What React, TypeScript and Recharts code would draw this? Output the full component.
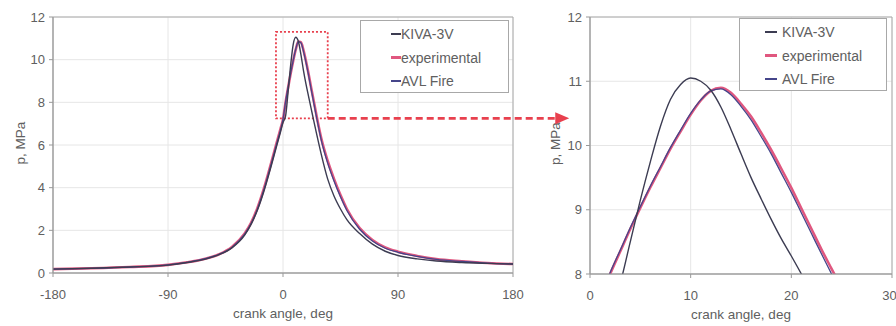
import React from 'react';
import {
  LineChart,
  Line,
  XAxis,
  YAxis,
  CartesianGrid,
  ReferenceArea,
  ReferenceLine,
  Legend,
  Label,
} from 'recharts';

// ---------- data ----------
const seriesNames = ['KIVA-3V', 'experimental', 'AVL Fire'];

const leftAngles = [-180, -150, -120, -90, -75, -60, -50, -40, -30, -25, -20, -15, -10, -5, -2, 0, 2, 4, 6, 8, 10, 12, 14, 16, 18, 20, 22, 24, 26, 30, 35, 40, 45, 50, 60, 70, 80, 90, 105, 120, 140, 160, 180];
const leftKiva = [0.18, 0.22, 0.28, 0.37, 0.49, 0.66, 0.86, 1.18, 1.78, 2.28, 2.95, 3.82, 4.85, 5.95, 6.6, 7.05, 7.35, 8.5, 9.75, 10.72, 11.05, 10.86, 10.25, 9.5, 8.85, 8.28, 7.72, 7.15, 6.6, 5.55, 4.4, 3.6, 3.0, 2.5, 1.85, 1.35, 1.02, 0.82, 0.66, 0.56, 0.49, 0.45, 0.42];
const leftExp = [0.18, 0.22, 0.28, 0.38, 0.5, 0.68, 0.88, 1.22, 1.85, 2.35, 3.05, 3.95, 5.0, 6.1, 6.75, 7.2, 8.0, 8.7, 9.35, 9.95, 10.48, 10.85, 10.82, 10.45, 9.93, 9.34, 8.7, 8.08, 7.45, 6.3, 5.25, 4.4, 3.65, 3.0, 2.1, 1.55, 1.2, 1.0, 0.8, 0.65, 0.55, 0.47, 0.42];
const leftAvl = [0.18, 0.22, 0.28, 0.38, 0.5, 0.68, 0.88, 1.2, 1.82, 2.32, 3.0, 3.9, 4.95, 6.05, 6.7, 7.2, 8.02, 8.72, 9.37, 9.97, 10.5, 10.85, 10.79, 10.4, 9.87, 9.27, 8.63, 8.0, 7.38, 6.22, 5.15, 4.3, 3.57, 2.93, 2.05, 1.5, 1.16, 0.97, 0.78, 0.64, 0.54, 0.46, 0.42];

const rightAngles = [0, 1, 2, 3, 4, 5, 6, 7, 8, 9, 10, 11, 12, 13, 14, 15, 16, 17, 18, 19, 20, 21, 22, 23, 24, 25, 26];
const rightKiva = [7.0, 7.15, 7.35, 7.85, 8.5, 9.15, 9.75, 10.3, 10.72, 10.95, 11.05, 11.0, 10.86, 10.6, 10.25, 9.87, 9.5, 9.17, 8.85, 8.55, 8.28, 8.0, 7.72, 7.45, 7.15, 6.9, 6.6];
const rightExp = [7.2, 7.6, 8.0, 8.35, 8.7, 9.03, 9.35, 9.65, 9.95, 10.22, 10.48, 10.7, 10.85, 10.9, 10.82, 10.65, 10.45, 10.2, 9.93, 9.64, 9.34, 9.02, 8.7, 8.38, 8.08, 7.78, 7.45];
const rightAvl = [7.2, 7.62, 8.02, 8.37, 8.72, 9.05, 9.37, 9.67, 9.97, 10.24, 10.5, 10.71, 10.85, 10.88, 10.79, 10.61, 10.4, 10.14, 9.87, 9.57, 9.27, 8.95, 8.63, 8.31, 8.0, 7.7, 7.38];

const leftXTicks = [-180, -90, 0, 90, 180];
const leftYTicks = [0, 2, 4, 6, 8, 10, 12];
const rightXTicks = [0, 10, 20, 30];
const rightYTicks = [8, 9, 10, 11, 12];

// zoom window annotation (in left-chart data units)
const zoomBox = { x1: -5.5, x2: 35, y1: 7.25, y2: 11.3 };
const arrowEndAngle = 224;

// ---------- styling ----------
const FONT = '"Liberation Sans", Arial, Helvetica, sans-serif';
const TEXT = '#606060';
const colors: Record<string, string> = {
  'KIVA-3V': '#3c3c52',
  experimental: '#e0577f',
  'AVL Fire': '#45458a',
};
const widths: Record<string, number> = {
  'KIVA-3V': 1.4,
  experimental: 2.6,
  'AVL Fire': 1.3,
};
const tickStyle = { fill: TEXT, fontSize: 13, fontFamily: FONT };

const leftData = leftAngles.map((a, i) => ({
  angle: a,
  kiva: leftKiva[i],
  exp: leftExp[i],
  avl: leftAvl[i],
}));
const rightData = rightAngles.map((a, i) => ({
  angle: a,
  kiva: rightKiva[i],
  exp: rightExp[i],
  avl: rightAvl[i],
}));

const XTitle = (props: any) => {
  const vb = props.viewBox || {};
  return (
    <text
      x={vb.x + vb.width / 2}
      y={vb.y + 40}
      textAnchor="middle"
      dominantBaseline="central"
      fill={TEXT}
      fontSize={13.5}
      fontFamily={FONT}
    >
      crank angle, deg
    </text>
  );
};

const YTitle = (props: any) => {
  const vb = props.viewBox || {};
  const cx = vb.x;
  const cy = vb.y + vb.height / 2 - 2;
  return (
    <text
      x={cx}
      y={cy}
      transform={`rotate(-90 ${cx} ${cy})`}
      textAnchor="middle"
      dominantBaseline="central"
      fill={TEXT}
      fontSize={13.5}
      fontFamily={FONT}
    >
      p, MPa
    </text>
  );
};

const makeLegend = (sampleLeft: number, sampleWidth: number, textLeft: number) => () => (
  <div
    style={{
      position: 'relative',
      width: '100%',
      height: '100%',
      border: '1px solid #a8a8a8',
      background: '#fff',
      boxSizing: 'border-box',
      fontFamily: FONT,
      fontSize: 14,
      color: TEXT,
    }}
  >
    {seriesNames.map((name, i) => (
      <div key={name} style={{ position: 'absolute', left: 0, top: 13 + i * 23.5 - 8, height: 16, width: '100%' }}>
        <div
          style={{
            position: 'absolute',
            left: sampleLeft,
            top: 8 - widths[name] / 2,
            width: sampleWidth,
            height: Math.max(1.5, widths[name]),
            background: colors[name],
          }}
        />
        <span style={{ position: 'absolute', left: textLeft, top: 0, lineHeight: '16px', whiteSpace: 'nowrap' }}>{name}</span>
      </div>
    ))}
  </div>
);

const ArrowShape = (props: any) => {
  const { x1, y1, x2, y2 } = props;
  if (x1 == null) return null;
  return (
    <g>
      <line x1={x1} y1={y1} x2={x2 - 10} y2={y2} stroke="#e8404e" strokeWidth={2.6} strokeDasharray="7 4" />
      <polygon points={`${x2 - 14},${y2 - 6} ${x2},${y2} ${x2 - 14},${y2 + 6}`} fill="#e8404e" />
    </g>
  );
};

const renderLines = () =>
  [
    { key: 'exp', name: 'experimental' },
    { key: 'avl', name: 'AVL Fire' },
    { key: 'kiva', name: 'KIVA-3V' },
  ].map((s) => (
    <Line
      key={s.key}
      type="monotone"
      dataKey={s.key}
      name={s.name}
      stroke={colors[s.name]}
      strokeWidth={widths[s.name]}
      dot={false}
      activeDot={false}
      isAnimationActive={false}
    />
  ));

export default function App() {
  return (
    <div style={{ position: 'absolute', left: 0, top: 0, width: 896, height: 326, background: '#fff', overflow: 'hidden' }}>
      {/* right (zoomed) chart */}
      <div style={{ position: 'absolute', left: 0, top: 0 }}>
        <LineChart width={896} height={326} data={rightData} margin={{ top: 17, right: 4, bottom: 7, left: 555 }}>
          <CartesianGrid stroke="#e6e6e6" />
          <XAxis
            type="number"
            dataKey="angle"
            domain={[0, 30]}
            ticks={rightXTicks}
            allowDataOverflow
            height={45}
            tickSize={4}
            tickMargin={13}
            stroke="#999"
            tick={tickStyle}
          >
            <Label content={XTitle} />
          </XAxis>
          <YAxis
            type="number"
            domain={[8, 12]}
            ticks={rightYTicks}
            allowDataOverflow
            width={35}
            tickSize={4}
            tickMargin={4}
            stroke="#999"
            tick={tickStyle}
          >
            <Label content={YTitle} />
          </YAxis>
          <ReferenceArea x1={0} x2={30} y1={8} y2={12} fill="none" stroke="#aaa" strokeWidth={1} ifOverflow="visible" />
          {renderLines()}
          <Legend
            layout="horizontal"
            verticalAlign="middle"
            align="center"
            content={makeLegend(25, 12, 42)}
            wrapperStyle={{ position: 'absolute', left: 739, top: 18, width: 148, height: 73 }}
          />
        </LineChart>
      </div>
      {/* left (full cycle) chart */}
      <div style={{ position: 'absolute', left: 0, top: 0 }}>
        <LineChart width={896} height={326} data={leftData} margin={{ top: 17, right: 383, bottom: 8, left: 20 }}>
          <CartesianGrid stroke="#e6e6e6" />
          <XAxis
            type="number"
            dataKey="angle"
            domain={[-180, 180]}
            ticks={leftXTicks}
            height={45}
            tickSize={4}
            tickMargin={13}
            stroke="#999"
            tick={tickStyle}
          >
            <Label content={XTitle} />
          </XAxis>
          <YAxis
            type="number"
            domain={[0, 12]}
            ticks={leftYTicks}
            width={33}
            tickSize={4}
            tickMargin={4}
            stroke="#999"
            tick={tickStyle}
          >
            <Label content={YTitle} />
          </YAxis>
          <ReferenceArea x1={-180} x2={180} y1={0} y2={12} fill="none" stroke="#aaa" strokeWidth={1} ifOverflow="visible" />
          {renderLines()}
          <ReferenceArea
            x1={zoomBox.x1}
            x2={zoomBox.x2}
            y1={zoomBox.y1}
            y2={zoomBox.y2}
            fill="none"
            fillOpacity={0}
            stroke="#e8404e"
            strokeWidth={1.8}
            strokeDasharray="2 2"
            ifOverflow="visible"
          />
          <ReferenceLine
            segment={[
              { x: zoomBox.x2, y: zoomBox.y1 },
              { x: arrowEndAngle, y: zoomBox.y1 },
            ]}
            ifOverflow="visible"
            shape={ArrowShape}
          />
          <Legend
            layout="horizontal"
            verticalAlign="middle"
            align="center"
            content={makeLegend(30, 10, 40)}
            wrapperStyle={{ position: 'absolute', left: 360, top: 20, width: 149, height: 73 }}
          />
        </LineChart>
      </div>
    </div>
  );
}
